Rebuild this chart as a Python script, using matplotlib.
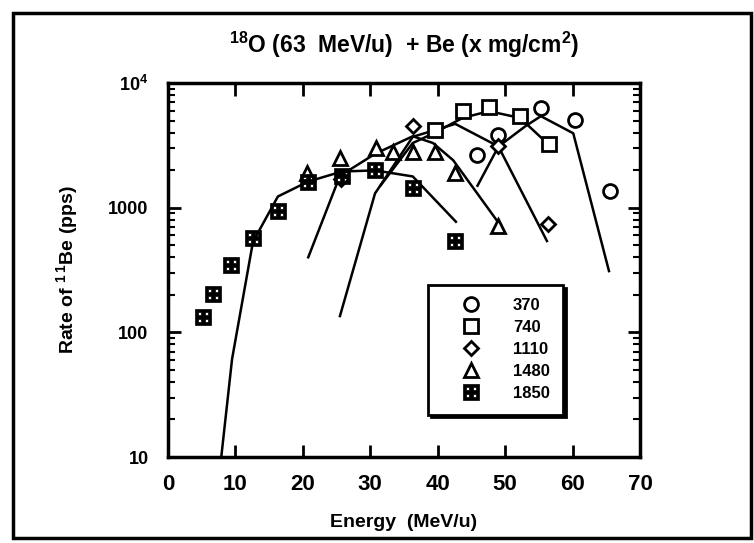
import numpy as np
import matplotlib
matplotlib.use("Agg")
import matplotlib.pyplot as plt
from matplotlib.path import Path
from matplotlib.patches import Rectangle
from matplotlib.ticker import LogLocator, NullFormatter, FixedLocator

plt.rcParams['font.family'] = ['Liberation Sans', 'DejaVu Sans']
plt.rcParams['font.weight'] = 'bold'
plt.rcParams['mathtext.fontset'] = 'custom'
plt.rcParams['mathtext.rm'] = 'Liberation Sans:bold'
plt.rcParams['mathtext.bf'] = 'Liberation Sans:bold'
plt.rcParams['mathtext.default'] = 'bf'

# measured points (Energy MeV/u, rate pps)
e370 = [45.8, 49.0, 55.3, 60.4, 65.6]
r370 = [2630, 3800, 6280, 5010, 1370]
e740 = [39.6, 43.7, 47.6, 52.2, 56.5]
r740 = [4170, 5940, 6400, 5420, 3220]
e1110 = [25.7, 36.3, 49.0, 56.3]
r1110 = [1700, 4500, 3100, 740]
e1480 = [20.6, 25.5, 30.8, 33.4, 36.3, 39.6, 42.6, 49.0]
r1480 = [1880, 2480, 2990, 2820, 2820, 2820, 1910, 716]
e1850 = [5.2, 6.7, 9.3, 12.6, 16.3, 20.8, 25.8, 30.7, 36.3, 42.6]
r1850 = [132, 202, 347, 573, 946, 1620, 1810, 1990, 1450, 542]

# calculated curves
le370 = [45.9, 49.0, 53.0, 55.3, 60.1, 65.4]
lr370 = [1500, 3090, 4500, 5420, 3950, 310]
le740 = [31.5, 36.3, 39.6, 43.7, 47.6, 52.2, 56.2]
lr740 = [1500, 3300, 4000, 5250, 5940, 5250, 3300]
le1110 = [25.5, 30.7, 36.3, 42.6, 49.0, 56.2]
lr1110 = [135, 1300, 3700, 4700, 3100, 540]
le1480 = [20.8, 25.5, 30.7, 36.3, 39.3, 42.3, 48.8]
lr1480 = [400, 1800, 2700, 3740, 3300, 2400, 785]
le1850 = [7.9, 9.5, 12.6, 16.3, 20.8, 25.8, 30.7, 36.3, 42.7]
lr1850 = [10, 61, 532, 1230, 1620, 1950, 1990, 1780, 771]

labels = ['370', '740', '1110', '1480', '1850']

# black square with four white windows
outer = [(-1, -1), (1, -1), (1, 1), (-1, 1), (-1, -1)]
verts = list(outer)
codes = [Path.MOVETO] + [Path.LINETO] * 3 + [Path.CLOSEPOLY]
for cx, cy in [(-0.45, -0.45), (0.45, -0.45), (0.45, 0.45), (-0.45, 0.45)]:
    s = 0.2
    hole = [(cx - s, cy - s), (cx - s, cy + s), (cx + s, cy + s), (cx + s, cy - s), (cx - s, cy - s)]
    verts += hole
    codes += [Path.MOVETO] + [Path.LINETO] * 3 + [Path.CLOSEPOLY]
boxmark = Path(verts, codes)

fig = plt.figure(figsize=(7.54, 5.43), dpi=100)
ax = fig.add_axes([168 / 754, 1 - 457 / 543, 472 / 754, 374 / 543])

for le, lr in [(le370, lr370), (le740, lr740), (le1110, lr1110), (le1480, lr1480), (le1850, lr1850)]:
    ax.plot(le, lr, color='black', lw=1.8, solid_joinstyle='round')

ax.plot(e370, r370, 'o', ms=10, mfc='white', mec='black', mew=2, label=labels[0])
ax.plot(e740, r740, 's', ms=10, mfc='white', mec='black', mew=2, label=labels[1])
ax.plot(e1110, r1110, 'D', ms=7, mfc='white', mec='black', mew=2, label=labels[2])
ax.plot(e1480, r1480, '^', ms=10, mfc='white', mec='black', mew=2, label=labels[3])
ax.plot(e1850, r1850, linestyle='none', marker=boxmark, ms=11, mfc='black', mec='black', mew=0.5, label=labels[4])

ax.set_yscale('log')
ax.set_xlim(0, 70)
ax.set_ylim(10, 1e4)
ax.xaxis.set_major_locator(FixedLocator([0, 10, 20, 30, 40, 50, 60, 70]))
ax.yaxis.set_major_locator(LogLocator(base=10))
ax.yaxis.set_minor_locator(LogLocator(base=10, subs=np.arange(2, 10)))
ax.yaxis.set_minor_formatter(NullFormatter())
ax.set_yticks([10, 100, 1000, 1e4])
ax.set_yticklabels(['10', '100', '1000', '10$^4$'])

ax.tick_params(axis='both', which='major', direction='in', length=9, width=2, top=True, right=True)
ax.tick_params(axis='y', which='minor', direction='in', length=5, width=1.5, right=True)
ax.tick_params(axis='x', labelsize=16, pad=12)
ax.tick_params(axis='y', labelsize=13, pad=14)
for sp in ax.spines.values():
    sp.set_linewidth(2.5)

ax.set_xlabel('Energy  (MeV/u)', fontsize=14, fontweight='bold', labelpad=14)
ax.set_ylabel('Rate of $^{1\\,1}$Be (pps)', fontsize=14, fontweight='bold', labelpad=20)
ax.set_title('$^{18}$O (63  MeV/u)  + Be (x mg/cm$^2$)', fontsize=16.5, fontweight='bold', pad=22)

leg = ax.legend(loc='upper left', bbox_to_anchor=(0.551, 0.46),
                fontsize=12, frameon=True, fancybox=False, edgecolor='black',
                shadow={'color': 'black', 'alpha': 1},
                handlelength=3.5, handletextpad=0.8, labelspacing=0.42, borderpad=0.8,
                borderaxespad=0)
leg.get_frame().set_linewidth(2)

fig.patches.append(Rectangle((13 / 754, 5 / 543), 738 / 754, 525 / 543, transform=fig.transFigure,
                             fill=False, edgecolor='black', lw=2.5))

fig.savefig('out.png', dpi=100)
